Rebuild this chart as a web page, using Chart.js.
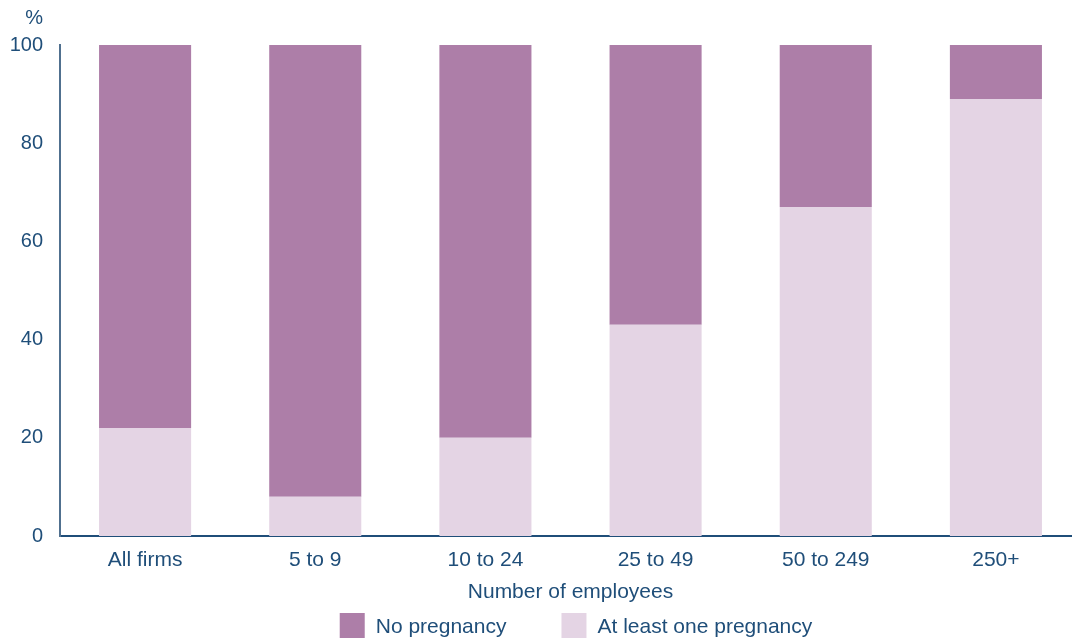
<!DOCTYPE html>
<html>
<head>
<meta charset="utf-8">
<script src="https://cdn.jsdelivr.net/npm/chart.js@4/dist/chart.umd.min.js"></script>
<style>
  html, body { margin: 0; padding: 0; background: #fff; }
  #wrap { width: 1072px; height: 639px; overflow: hidden; position: relative; }
  #chart { display: block; }
</style>
</head>
<body>
<div id="wrap"><canvas id="chart" width="1100" height="639"></canvas></div>
<script>
const categories = ["All firms", "5 to 9", "10 to 24", "25 to 49", "50 to 249", "250+"];
const atLeastOne = [22, 8, 20, 43, 67, 89];
const noPregnancy = [78, 92, 80, 57, 33, 11];
const yTicks = [0, 20, 40, 60, 80, 100];

const TEXT = "#1f4e79";
const DARK = "#ad7ea8";
const LIGHT = "#e4d4e4";
const FONT = "'Liberation Sans', Arial, sans-serif";

// legend row under the axis title, drawn by hand so it can sit where it needs to
const bottomLegend = {
  id: "bottomLegend",
  afterDraw(chart) {
    const ctx = chart.ctx;
    const items = [chart.data.datasets[1], chart.data.datasets[0]];
    ctx.save();
    ctx.font = "21px " + FONT;
    ctx.textBaseline = "middle";
    const box = 25, gapText = 11, gapItem = 55;
    const widths = items.map(d => box + gapText + ctx.measureText(d.label).width);
    const total = widths.reduce((a, b) => a + b, 0) + gapItem * (items.length - 1);
    let x = 576 - total / 2;
    const y = 613;
    items.forEach((d, i) => {
      ctx.fillStyle = d.backgroundColor;
      ctx.fillRect(x, y, box, box);
      ctx.fillStyle = TEXT;
      ctx.fillText(d.label, x + box + gapText, y + box / 2 + 2);
      x += widths[i] + gapItem;
    });
    // unit label above the y axis
    ctx.font = "20px " + FONT;
    ctx.textAlign = "right";
    ctx.fillText("%", 43, 18);
    ctx.restore();
  }
};

new Chart(document.getElementById("chart"), {
  type: "bar",
  data: {
    labels: categories,
    datasets: [
      { label: "At least one pregnancy", data: atLeastOne, backgroundColor: LIGHT },
      { label: "No pregnancy", data: noPregnancy, backgroundColor: DARK }
    ]
  },
  options: {
    responsive: false,
    animation: false,
    layout: { padding: { left: 10, right: 19, top: 45, bottom: 0 } },
    datasets: { bar: { categoryPercentage: 1, barPercentage: 0.541 } },
    plugins: { legend: { display: false }, tooltip: { enabled: false } },
    scales: {
      x: {
        stacked: true,
        grid: { display: false, drawTicks: false },
        border: { color: TEXT, width: 2 },
        ticks: { color: TEXT, font: { family: FONT, size: 21 }, padding: 12, maxRotation: 0 },
        title: {
          display: true, text: "Number of employees", color: TEXT,
          font: { family: FONT, size: 21 }, padding: { top: 0, bottom: 34 }
        },
        afterFit(scale) { scale.height = 103; }
      },
      y: {
        stacked: true,
        min: 0, max: 100,
        afterBuildTicks(scale) { scale.ticks = yTicks.map(v => ({ value: v })); },
        grid: { display: false, drawTicks: false },
        border: { color: "#50708f", width: 2 },
        ticks: { color: TEXT, font: { family: FONT, size: 20 }, padding: 17 },
        afterFit(scale) { scale.width = 50; }
      }
    }
  },
  plugins: [bottomLegend]
});
</script>
</body>
</html>
